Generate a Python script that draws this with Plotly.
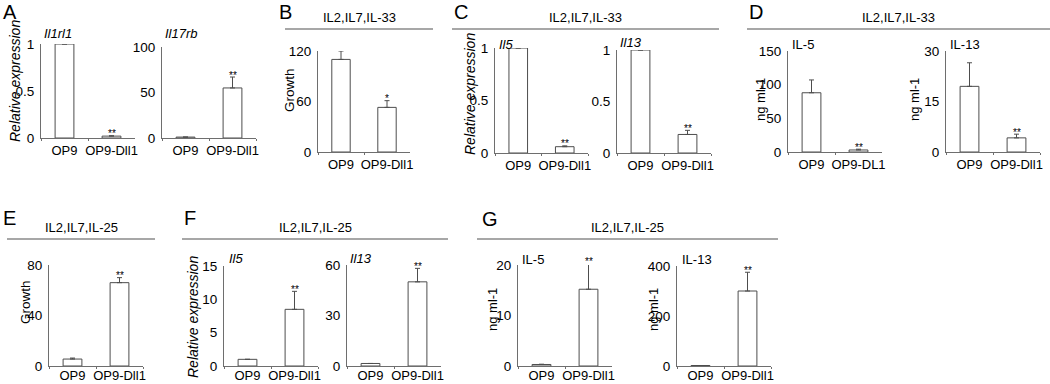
import plotly.graph_objects as go

W, H = 1050, 384
FONT = "Liberation Sans, Arial, Helvetica, sans-serif"
AXC = "#6e6e6e"
BARC = "#4d4d4d"
HDRC = "#8a8a8a"

# ---------------- data ----------------
categories = ["OP9", "OP9-Dll1"]
categories_dl1 = ["OP9", "OP9-DL1"]

A_il1rl1 = [1.0, 0.02]
A_il1rl1_err = [0.0, 0.004]
A_il1rl1_sig = ["", "**"]
A_il1rl1_ticks = [0, 0.5, 1]

A_il17rb = [1.0, 55]
A_il17rb_err = [0.0, 12]
A_il17rb_sig = ["", "**"]
A_il17rb_ticks = [0, 50, 100]

B_growth = [110, 53]
B_growth_err = [10, 8]
B_growth_sig = ["", "*"]
B_growth_ticks = [0, 60, 120]

C_il5 = [1.0, 0.06]
C_il5_err = [0.0, 0.008]
C_il5_sig = ["", "**"]
C_il5_ticks = [0, 0.5, 1]

C_il13 = [1.0, 0.18]
C_il13_err = [0.0, 0.04]
C_il13_sig = ["", "**"]
C_il13_ticks = [0, 0.5, 1]

D_il5 = [88, 3]
D_il5_err = [19, 1.2]
D_il5_sig = ["", "**"]
D_il5_ticks = [0, 50, 100, 150]

D_il13 = [19.5, 4.2]
D_il13_err = [7, 1.1]
D_il13_sig = ["", "**"]
D_il13_ticks = [0, 15, 30]

E_growth = [5.5, 66]
E_growth_err = [0.8, 4]
E_growth_sig = ["", "**"]
E_growth_ticks = [0, 40, 80]

F_il5 = [1.0, 8.5]
F_il5_err = [0.0, 2.7]
F_il5_sig = ["", "**"]
F_il5_ticks = [0, 5, 10, 15]

F_il13 = [1.5, 50]
F_il13_err = [0.0, 8]
F_il13_sig = ["", "**"]
F_il13_ticks = [0, 30, 60]

G_il5 = [0.3, 15.2]
G_il5_err = [0.05, 5]
G_il5_sig = ["", "**"]
G_il5_ticks = [0, 10, 20]

G_il13 = [2, 300]
G_il13_err = [0, 75]
G_il13_sig = ["", "**"]
G_il13_ticks = [0, 200, 400]

# ---------------- layout geometry (pixels) ----------------
panels = [
    dict(cats=categories, v=A_il1rl1, e=A_il1rl1_err, s=A_il1rl1_sig, t=A_il1rl1_ticks, ymax=1,
         box=(41, 135, 44, 138), title="<i>Il1rl1</i>", tpos=(42, 33)),
    dict(cats=categories, v=A_il17rb, e=A_il17rb_err, s=A_il17rb_sig, t=A_il17rb_ticks, ymax=100,
         box=(162, 256, 47, 138), title="<i>Il17rb</i>", tpos=(163, 33)),
    dict(cats=categories, v=B_growth, e=B_growth_err, s=B_growth_sig, t=B_growth_ticks, ymax=120,
         box=(318, 410, 51, 152), title="", tpos=(0, 0)),
    dict(cats=categories, v=C_il5, e=C_il5_err, s=C_il5_sig, t=C_il5_ticks, ymax=1,
         box=(495, 588, 48, 153), title="<i>Il5</i>", tpos=(497, 44)),
    dict(cats=categories, v=C_il13, e=C_il13_err, s=C_il13_sig, t=C_il13_ticks, ymax=1,
         box=(617, 711, 50, 153), title="<i>Il13</i>", tpos=(618, 42)),
    dict(cats=categories_dl1, v=D_il5, e=D_il5_err, s=D_il5_sig, t=D_il5_ticks, ymax=150,
         box=(788, 882, 51, 152), title="IL-5", tpos=(790, 44)),
    dict(cats=categories, v=D_il13, e=D_il13_err, s=D_il13_sig, t=D_il13_ticks, ymax=30,
         box=(946, 1040, 51, 152), title="IL-13", tpos=(948, 44)),
    dict(cats=categories, v=E_growth, e=E_growth_err, s=E_growth_sig, t=E_growth_ticks, ymax=80,
         box=(49, 143, 265, 366), title="", tpos=(0, 0)),
    dict(cats=categories, v=F_il5, e=F_il5_err, s=F_il5_sig, t=F_il5_ticks, ymax=15,
         box=(224, 318, 266, 366), title="<i>Il5</i>", tpos=(227, 258)),
    dict(cats=categories, v=F_il13, e=F_il13_err, s=F_il13_sig, t=F_il13_ticks, ymax=60,
         box=(347, 441, 265, 366), title="<i>Il13</i>", tpos=(348, 258)),
    dict(cats=categories, v=G_il5, e=G_il5_err, s=G_il5_sig, t=G_il5_ticks, ymax=20,
         box=(518, 612, 265, 366), title="IL-5", tpos=(520, 259)),
    dict(cats=categories, v=G_il13, e=G_il13_err, s=G_il13_sig, t=G_il13_ticks, ymax=400,
         box=(677, 771, 266, 366), title="IL-13", tpos=(680, 259)),
]

ytitles = [
    ("<i>Relative expression</i>", 15, 81, 14),
    ("Growth", 289, 90, 13.5),
    ("<i>Relative expression</i>", 470, 94, 14),
    ("ng ml-1", 760, 100, 13),
    ("ng ml-1", 914, 100, 13),
    ("Growth", 25, 302, 13.5),
    ("<i>Relative expression</i>", 193, 317, 14),
    ("ng ml-1", 492, 310, 13),
    ("ng ml-1", 653, 310, 13),
]

headers = [
    ("IL2,IL7,IL-33", 285, 433, 29),
    ("IL2,IL7,IL-33", 452, 719, 29),
    ("IL2,IL7,IL-33", 747, 1050, 29),
    ("IL2,IL7,IL-25", 7, 155, 239),
    ("IL2,IL7,IL-25", 182, 448, 239),
    ("IL2,IL7,IL-25", 477, 778, 239),
]

letters = [("A", 1, 12), ("B", 277, 12), ("C", 452, 12), ("D", 747, 12),
           ("E", 1, 218), ("F", 182, 218), ("G", 480, 219)]


def px(x):
    return x / W


def py(y):
    return 1 - y / H


fig = go.Figure()
layout = {}
annotations = []
shapes = []

for i, p in enumerate(panels):
    n = "" if i == 0 else str(i + 1)
    x0, x1, ytop, ybot = p["box"]
    fig.add_trace(go.Bar(
        x=p["cats"], y=p["v"], width=0.4,
        marker=dict(color="white", line=dict(color=BARC, width=1)),
        error_y=dict(type="data", symmetric=False, array=p["e"], arrayminus=[0, 0],
                     color=BARC, thickness=1, width=2.5),
        cliponaxis=False, showlegend=False, hoverinfo="skip",
        xaxis="x" + n, yaxis="y" + n,
    ))
    layout["xaxis" + n] = dict(
        domain=[px(x0), px(x1)], anchor="y" + n, type="category",
        range=[-0.5, 1.5], showline=True, linecolor=AXC, linewidth=1,
        ticks="outside", tickson="boundaries", ticklen=2, tickcolor=AXC,
        tickangle=0, automargin=False,
        ticklabelstandoff=(-3 if ybot > 300 else 0),
        showgrid=False, zeroline=False,
        tickfont=dict(family=FONT, size=13, color="black"), fixedrange=True,
    )
    layout["yaxis" + n] = dict(
        domain=[py(ybot), py(ytop)], anchor="x" + n,
        range=[0, p["ymax"]], showline=True, linecolor=AXC, linewidth=1,
        ticks="outside", ticklen=3, tickcolor="rgba(0,0,0,0)",
        tickvals=p["t"], showgrid=False, zeroline=False, automargin=False,
        tickfont=dict(family=FONT, size=13.5, color="black"), fixedrange=True,
    )
    if p["title"]:
        annotations.append(dict(
            text=p["title"], x=px(p["tpos"][0]), y=py(p["tpos"][1]),
            xref="paper", yref="paper", xanchor="left", yanchor="middle",
            showarrow=False, font=dict(family=FONT, size=13, color="black")))
    for c, v, e, s in zip(p["cats"], p["v"], p["e"], p["s"]):
        if s:
            annotations.append(dict(
                text=s, x=c, y=(v + e) / p["ymax"], xref="x" + n, yref="y" + n + " domain",
                xanchor="center", yanchor="middle", yshift=2, showarrow=False,
                font=dict(family=FONT, size=10, color="black")))

for t, x, y, fs in ytitles:
    annotations.append(dict(
        text=t, x=px(x), y=py(y), xref="paper", yref="paper", textangle=-90,
        xanchor="center", yanchor="middle", showarrow=False,
        font=dict(family=FONT, size=fs, color="black")))

for t, xa, xb, y in headers:
    shapes.append(dict(type="line", xref="paper", yref="paper",
                       x0=px(xa), x1=px(xb), y0=py(y), y1=py(y),
                       line=dict(color=HDRC, width=1.6)))
    annotations.append(dict(
        text=t, x=px((xa + xb) / 2), y=py(y - 2), xref="paper", yref="paper",
        xanchor="center", yanchor="bottom", showarrow=False,
        font=dict(family=FONT, size=13, color="black")))

for t, x, y in letters:
    annotations.append(dict(
        text=t, x=px(x), y=py(y), xref="paper", yref="paper",
        xanchor="left", yanchor="middle", showarrow=False,
        font=dict(family=FONT, size=20, color="black")))

fig.update_layout(
    width=W, height=H, margin=dict(l=0, r=0, t=0, b=0),
    paper_bgcolor="white", plot_bgcolor="white",
    annotations=annotations, shapes=shapes, bargap=0.6,
    **layout,
)

fig.write_html("out.html", config={"displayModeBar": False},
               post_script="document.body.style.margin='0';document.body.style.overflow='hidden';")
